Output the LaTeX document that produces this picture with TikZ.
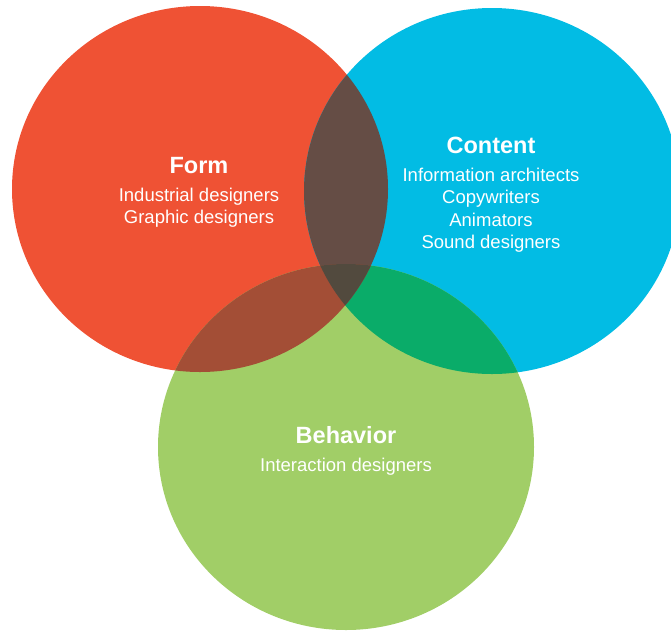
\documentclass[tikz,border=0pt]{standalone}
\usepackage{fontspec}
\setmainfont{Liberation Sans}
\usetikzlibrary{positioning}

\definecolor{formred}{HTML}{EF5234}
\definecolor{contentblue}{HTML}{02BCE4}
\definecolor{behaviorgreen}{HTML}{A1CE67}
\definecolor{formcontent}{HTML}{654D45}
\definecolor{formbehavior}{HTML}{A34E36}
\definecolor{contentbehavior}{HTML}{0AAC69}
\definecolor{allthree}{HTML}{524A3E}

\tikzset{
  area title/.style={text=white,inner sep=0pt,anchor=base,
    font=\bfseries\fontsize{23.5}{26}\selectfont},
  area roles/.style={text=white,inner sep=0pt,anchor=north,align=center,
    font=\fontsize{18.5}{22.3}\selectfont}
}

\begin{document}
\begin{tikzpicture}[x=1pt,y=-1pt]
  \useasboundingbox (0,0) rectangle (671,630);

  \coordinate (form center)     at (200,189);
  \coordinate (content center)  at (492,191);
  \coordinate (behavior center) at (346,447);

  \def\formarea{(form center) ellipse [x radius=188pt,y radius=183pt]}
  \def\contentarea{(content center) ellipse [x radius=188pt,y radius=183pt]}
  \def\behaviorarea{(behavior center) ellipse [x radius=188pt,y radius=183pt]}

  % the three circles
  \fill[formred]       \formarea;
  \fill[contentblue]   \contentarea;
  \fill[behaviorgreen] \behaviorarea;

  % overlaps
  \begin{scope}
    \clip \contentarea;
    \fill[contentbehavior] \behaviorarea;
  \end{scope}
  \begin{scope}
    \clip \formarea;
    \fill[formcontent]  \contentarea;
    \fill[formbehavior] \behaviorarea;
    \clip \contentarea;
    \fill[allthree]     \behaviorarea;
  \end{scope}

  % labels
  \node[area title] (form)     at (199,173) {Form};
  \node[area title] (content)  at (491,153) {Content};
  \node[area title] (behavior) at (346,443) {Behavior};

  \node[area roles,below=14.5pt of form] (form roles)
    {Industrial designers\\Graphic designers};
  \node[area roles,below=14.5pt of content] (content roles)
    {Information architects\\Copywriters\\Animators\\Sound designers};
  \node[area roles,below=14pt of behavior] (behavior roles)
    {Interaction designers};
\end{tikzpicture}
\end{document}
